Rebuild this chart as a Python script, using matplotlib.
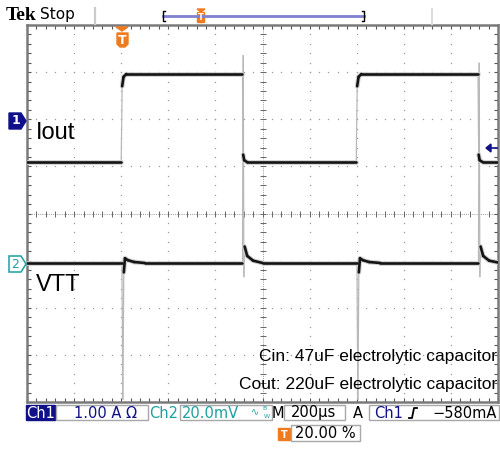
import matplotlib
matplotlib.use("Agg")
import matplotlib.pyplot as plt
from matplotlib import patches
from matplotlib.collections import LineCollection
import numpy as np

# scope traces, time in us (200us/div, 10 div), level in screen divisions
t_iout = [0, 400, 404, 410, 422, 915, 918, 922, 935, 1398, 1402, 1408, 1420, 1915, 1918, 1922, 1935, 2000]
y_iout = [1.09, 1.09, 2.7, 2.9, 2.96, 2.96, 1.25, 1.13, 1.09, 1.09, 2.7, 2.9, 2.96, 2.96, 1.25, 1.13, 1.09, 1.09]

t_vtt = [0, 403, 407, 411, 416, 428, 455, 500,
         915, 918, 921, 924, 935, 960, 1000,
         1401, 1405, 1409, 1414, 1426, 1453, 1500,
         1917, 1920, 1923, 1926, 1937, 1962, 2000]
y_vtt = [-1.05, -1.05, -3.95, -1.25, -0.95, -0.99, -1.03, -1.05,
         -1.05, 3.36, -1.35, -0.7, -0.9, -1.0, -1.05,
         -1.05, -3.95, -1.25, -0.95, -0.99, -1.03, -1.05,
         -1.05, 3.2, -1.35, -0.7, -0.9, -1.0, -1.04]

trace_names = ["Iout", "VTT"]
name_pos = [(38, 1.71), (38, -1.52)]
notes = ["Cin: 47uF electrolytic capacitor", "Cout: 220uF electrolytic capacitor"]
note_y = [-3.03, -3.62]

NAVY = "#10108a"
TEAL = "#1ea0a0"
ORANGE = "#f07a1e"
GRAY = "#9a9a9a"


def add_trace(ax, t, y):
    t = np.asarray(t, float)
    y = np.asarray(y, float)
    pts = np.column_stack([t, y])
    segs = np.stack([pts[:-1], pts[1:]], axis=1)
    slope = np.abs(np.diff(y) / np.maximum(np.diff(t), 1e-9))
    fast = slope > 0.08
    ax.add_collection(LineCollection(segs[fast], colors="#b8b8b8", linewidths=0.9, zorder=3))
    ax.add_collection(LineCollection(segs[~fast], colors="#cfcfcf", linewidths=3.4,
                                     capstyle="round", zorder=4))
    ax.add_collection(LineCollection(segs[~fast], colors="#141414", linewidths=1.9,
                                     capstyle="round", zorder=5))


def graticule(ax):
    sub_x = np.arange(0, 2001, 40)
    sub_y = np.arange(-4, 4.001, 0.2)
    for gx in range(200, 2000, 200):
        if gx == 1000:
            continue
        ax.plot(np.full_like(sub_y, gx), sub_y, ls="none", marker="s", ms=0.9, mew=0, color=GRAY, zorder=1)
    for gy in [-3, -2, -1, 1, 2, 3]:
        ax.plot(sub_x, np.full(len(sub_x), float(gy)), ls="none", marker="s", ms=0.9, mew=0, color=GRAY, zorder=1)
    ax.axhline(0, color=GRAY, lw=0.7, ls=(0, (1, 1.2)), zorder=1)
    ax.axvline(1000, color=GRAY, lw=0.7, ls=(0, (1, 1.2)), zorder=1)
    ax.plot(sub_x, np.zeros(len(sub_x)), ls="none", marker="|", ms=4, mew=0.7, color="#666666", zorder=1)
    ax.plot(np.full_like(sub_y, 1000), sub_y, ls="none", marker="_", ms=4, mew=0.7, color="#666666", zorder=1)


fig = plt.figure(figsize=(5, 4.59), dpi=100)
ax = fig.add_axes([27 / 500, 1 - 402 / 459, 471 / 500, 377 / 459])
ax.set_xlim(0, 2000)
ax.set_ylim(-4, 4)
ax.set_xticks(np.arange(0, 2001, 200))
ax.set_xticks(np.arange(0, 2001, 40), minor=True)
ax.set_yticks(np.arange(-4, 4.01, 1))
ax.set_yticks(np.arange(-4, 4.01, 0.2), minor=True)
ax.tick_params(which="both", direction="in", top=True, right=True, length=3, width=0.8,
               color="#555555", labelbottom=False, labelleft=False)
for s in ax.spines.values():
    s.set_color("#7a7a7a")
    s.set_linewidth(1.8)

graticule(ax)
add_trace(ax, t_iout, y_iout)
add_trace(ax, t_vtt, y_vtt)

for name, (tx, ty) in zip(trace_names, name_pos):
    ax.text(tx, ty, name, fontsize=17, family="Liberation Sans", va="center", ha="left", zorder=6)
for txt, ny in zip(notes, note_y):
    ax.text(1995, ny, txt, fontsize=12.5, family="Liberation Sans", va="center", ha="right", zorder=6)

# overlay in pixel coordinates for the scope readouts
ov = fig.add_axes([0, 0, 1, 1])
ov.set_xlim(0, 500)
ov.set_ylim(459, 0)
ov.axis("off")

# top bar
ov.text(6, 15, "Tek", fontsize=14, family="Liberation Serif", weight="bold", va="center", ha="left")
ov.text(40, 15, "Stop", fontsize=11, family="DejaVu Sans", va="center", ha="left")
ov.plot([95, 95], [8, 24], color="#cccccc", lw=1.6)
ov.plot([432, 432], [9, 24], color="#dddddd", lw=1.6)
ov.plot([163, 364], [16, 16], color="#8080d0", lw=2)
ov.plot([165, 163, 163, 165], [11, 11, 21, 21], color="black", lw=1)
ov.plot([362, 364, 364, 362], [11, 11, 21, 21], color="black", lw=1)
ov.add_patch(patches.Polygon([[197, 9], [205, 9], [201, 12]], color=ORANGE))
ov.add_patch(patches.FancyBboxPatch((198, 13), 6, 9, boxstyle="round,pad=0.5", color=ORANGE))
ov.text(201, 17.5, "T", fontsize=6, color="white", weight="bold", ha="center", va="center")

# trigger position marker
ov.add_patch(patches.Polygon([[116, 27], [128, 27], [122, 31]], color=ORANGE))
ov.add_patch(patches.Polygon([[117, 33], [128, 33], [128, 44], [125, 47], [120, 47], [117, 44]], color=ORANGE))
ov.text(122.5, 40, "T", fontsize=9, color="white", weight="bold", ha="center", va="center")

# channel markers
ov.add_patch(patches.Polygon([[9, 113], [21, 113], [26, 121], [21, 129], [9, 129]], color=NAVY))
ov.text(15.5, 121, "1", fontsize=9, color="white", weight="bold", ha="center", va="center")
ov.add_patch(patches.Polygon([[9, 256], [21, 256], [26, 264], [21, 272], [9, 272]],
                             facecolor="white", edgecolor=TEAL, lw=1.1))
ov.text(15.5, 264, "2", fontsize=9, color=TEAL, ha="center", va="center")

# trigger level arrow
ov.add_patch(patches.Polygon([[486, 148], [491, 144], [491, 152]], color=NAVY))
ov.plot([490, 497], [148, 148], color=NAVY, lw=1.2)

# status bar
fs = 10.5
ov.add_patch(patches.Rectangle((26, 405), 29, 15, color=NAVY))
ov.text(40.5, 413, "Ch1", fontsize=fs, color="white", ha="center", va="center")
for x0, w in [(56, 92), (180, 92), (284, 61), (369, 130)]:
    ov.add_patch(patches.Rectangle((x0, 405), w, 15, facecolor="white", edgecolor="#a8a8a8", lw=1))
ov.text(106, 413, "1.00 A \u03a9", fontsize=fs, color=NAVY, ha="center", va="center")
ov.text(164, 413, "Ch2", fontsize=fs, color=TEAL, ha="center", va="center")
ov.text(182, 413, "20.0mV", fontsize=fs, color=TEAL, ha="left", va="center")
ov.text(251, 412, "\u223f", fontsize=7, color=TEAL, ha="left", va="center")
ov.text(262, 409, "B", fontsize=4.5, color=TEAL, ha="left", va="center")
ov.text(264, 416, "W", fontsize=4.5, color=TEAL, ha="left", va="center")
ov.text(278, 413, "M", fontsize=fs, color="black", ha="center", va="center")
ov.text(314, 413, "200\u00b5s", fontsize=fs, color="black", ha="center", va="center")
ov.text(358, 413, "A", fontsize=fs, color="black", ha="center", va="center")
ov.text(374, 413, "Ch1", fontsize=fs, color=NAVY, ha="left", va="center")
ov.plot([409, 412, 414, 417], [418, 418, 408, 408], color="black", lw=1.3)
ov.text(497, 413, "\u2212580mA", fontsize=fs, color="black", ha="right", va="center")

ov.add_patch(patches.Rectangle((278, 428), 12, 12, color=ORANGE))
ov.text(284, 434.5, "T", fontsize=7, color="white", weight="bold", ha="center", va="center")
ov.add_patch(patches.Rectangle((291, 425), 69, 16, facecolor="white", edgecolor="#a8a8a8", lw=1))
ov.text(295, 433.5, "20.00 %", fontsize=fs, color="black", ha="left", va="center")

fig.savefig("out.png", dpi=100)
